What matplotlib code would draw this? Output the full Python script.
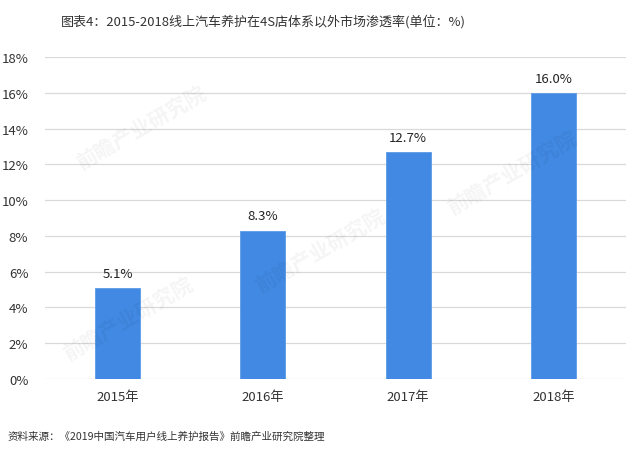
import matplotlib
matplotlib.use("Agg")
import matplotlib.pyplot as plt

plt.rcParams['font.family'] = ['Noto Sans CJK SC', 'DejaVu Sans']

categories = ['2015年', '2016年', '2017年', '2018年']
values = [5.1, 8.3, 12.7, 16.0]
yticks = [0, 2, 4, 6, 8, 10, 12, 14, 16, 18]
title = '图表4：2015-2018线上汽车养护在4S店体系以外市场渗透率(单位：%)'
source = '资料来源：《2019中国汽车用户线上养护报告》前瞻产业研究院整理'

fig = plt.figure(figsize=(6.4, 4.56), dpi=100)
ax = fig.add_axes([45/640, 1-380/456, (626-45)/640, (380-58)/456])

x = list(range(len(categories)))
ax.bar(x, values, width=0.31, color='#4189E2', edgecolor='#5A9AE8', linewidth=0.6, zorder=3)
for xi, v in zip(x, values):
    ax.text(xi, v + 0.45, f'{v:.1f}%', ha='center', va='bottom', fontsize=9.5, color='#222222')

ax.set_xlim(-0.5, len(categories) - 0.5)
ax.set_ylim(0, 18)
ax.set_yticks(yticks)
ax.set_yticklabels([f'{t}%' for t in yticks], fontsize=9.5, color='#333333')
ax.set_xticks(x)
ax.set_xticklabels(categories, fontsize=9.5, color='#333333')
ax.tick_params(length=0, pad=8)
ax.tick_params(axis='y', pad=12)
ax.grid(axis='y', color='#d9d9d9', linewidth=0.9, zorder=0)
for s in ax.spines.values():
    s.set_visible(False)

# faint watermarks (kept inside the figure)
for (wx, wy) in [(0.22, 0.72), (0.20, 0.30), (0.50, 0.45), (0.80, 0.62)]:
    fig.text(wx, wy, '前瞻产业研究院', fontsize=15, color='#000000', alpha=0.045,
             rotation=30, ha='center', va='center', fontweight='bold')

fig.text(61/640, 1-22/456, title, ha='left', va='center', fontsize=9.4, color='#333333')
fig.text(8/640, 1-437/456, source, ha='left', va='center', fontsize=7.6, color='#333333')

fig.savefig('out.png', dpi=100)
